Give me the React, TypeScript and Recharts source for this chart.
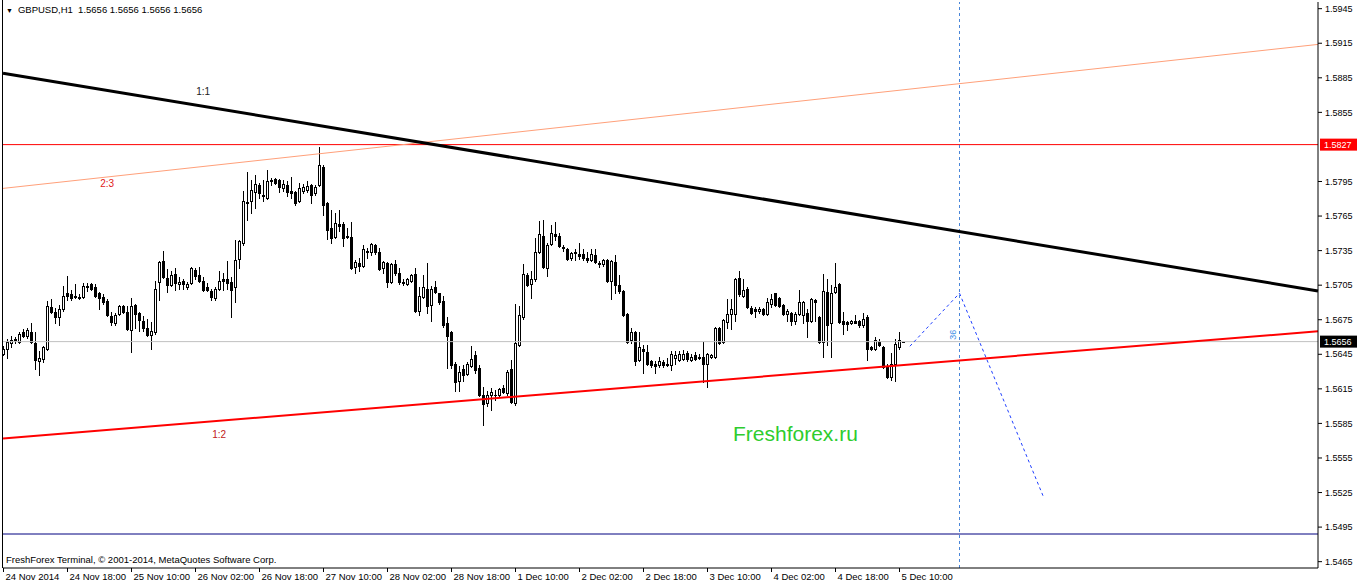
import { ComposedChart, Bar, XAxis, YAxis, ReferenceLine, ReferenceDot } from 'recharts'

// GBPUSD H1, one row per 16 bars (one time label each)
const OPEN = [
  1.5645, 1.5650, 1.5655, 1.5657, 1.5656, 1.5664, 1.5661, 1.5664, 1.5655, 1.5639, 1.5641, 1.5650, 1.5686, 1.5682, 1.5677, 1.5684,
  1.5698, 1.5697, 1.5696, 1.5695, 1.5695, 1.5703, 1.5706, 1.5703, 1.5698, 1.5695, 1.5691, 1.5678, 1.5672, 1.5680, 1.5687, 1.5682,
  1.5666, 1.5688, 1.5681, 1.5674, 1.5668, 1.5662, 1.5664, 1.5708, 1.5726, 1.5711, 1.5705, 1.5715, 1.5706, 1.5709, 1.5703, 1.5707,
  1.5718, 1.5714, 1.5709, 1.5703, 1.5700, 1.5694, 1.5702, 1.5710, 1.5710, 1.5708, 1.5703, 1.5728, 1.5742, 1.5776, 1.5778, 1.5786,
  1.5792, 1.5783, 1.5781, 1.5795, 1.5797, 1.5796, 1.5789, 1.5792, 1.5787, 1.5786, 1.5778, 1.5787, 1.5788, 1.5792, 1.5785, 1.5792,
  1.5808, 1.5776, 1.5755, 1.5747, 1.5758, 1.5758, 1.5748, 1.5747, 1.5721, 1.5724, 1.5722, 1.5734, 1.5734, 1.5740, 1.5734, 1.5720,
  1.5724, 1.5708, 1.5723, 1.5716, 1.5708, 1.5706, 1.5709, 1.5715, 1.5683, 1.5695, 1.5702, 1.5688, 1.5703, 1.5698, 1.5691, 1.5672,
  1.5664, 1.5637, 1.5622, 1.5632, 1.5628, 1.5635, 1.5644, 1.5633, 1.5610, 1.5603, 1.5610, 1.5610, 1.5610, 1.5616, 1.5611, 1.5632,
  1.5603, 1.5653, 1.5677, 1.5714, 1.5706, 1.5710, 1.5734, 1.5748, 1.5720, 1.5741, 1.5749, 1.5748, 1.5738, 1.5736, 1.5729, 1.5733,
  1.5732, 1.5732, 1.5729, 1.5727, 1.5731, 1.5724, 1.5723, 1.5727, 1.5709, 1.5725, 1.5705, 1.5700, 1.5680, 1.5657, 1.5664, 1.5640,
  1.5650, 1.5647, 1.5639, 1.5637, 1.5636, 1.5638, 1.5637, 1.5636, 1.5642, 1.5640, 1.5641, 1.5646, 1.5640, 1.5644, 1.5643, 1.5643,
  1.5637, 1.5643, 1.5643, 1.5668, 1.5656, 1.5673, 1.5680, 1.5680, 1.5711, 1.5696, 1.5702, 1.5685, 1.5684, 1.5683, 1.5684, 1.5680,
  1.5689, 1.5698, 1.5694, 1.5688, 1.5680, 1.5681, 1.5674, 1.5680, 1.5679, 1.5681, 1.5674, 1.5692, 1.5677, 1.5656, 1.5699, 1.5672,
  1.5699, 1.5706, 1.5674, 1.5673, 1.5672, 1.5674, 1.5674, 1.5670, 1.5677, 1.5651, 1.5650, 1.5656, 1.5651, 1.5635, 1.5625, 1.5637,
  1.5651, 1.5656,
]

const HIGH = [
  1.5652, 1.5658, 1.5661, 1.5660, 1.5664, 1.5667, 1.5668, 1.5672, 1.5664, 1.5648, 1.5652, 1.5691, 1.5693, 1.5685, 1.5688, 1.5704,
  1.5713, 1.5701, 1.5706, 1.5697, 1.5707, 1.5707, 1.5707, 1.5706, 1.5699, 1.5697, 1.5693, 1.5682, 1.5681, 1.5688, 1.5688, 1.5687,
  1.5694, 1.5689, 1.5682, 1.5678, 1.5676, 1.5673, 1.5709, 1.5726, 1.5735, 1.5719, 1.5717, 1.5720, 1.5712, 1.5710, 1.5708, 1.5721,
  1.5720, 1.5721, 1.5712, 1.5707, 1.5702, 1.5703, 1.5717, 1.5716, 1.5726, 1.5712, 1.5744, 1.5744, 1.5787, 1.5803, 1.5796, 1.5801,
  1.5794, 1.5796, 1.5805, 1.5798, 1.5798, 1.5797, 1.5796, 1.5795, 1.5799, 1.5787, 1.5794, 1.5793, 1.5795, 1.5793, 1.5792, 1.5825,
  1.5809, 1.5777, 1.5770, 1.5768, 1.5770, 1.5760, 1.5755, 1.5760, 1.5727, 1.5729, 1.5740, 1.5737, 1.5742, 1.5741, 1.5737, 1.5726,
  1.5725, 1.5724, 1.5727, 1.5720, 1.5710, 1.5711, 1.5715, 1.5720, 1.5703, 1.5714, 1.5724, 1.5704, 1.5709, 1.5698, 1.5696, 1.5677,
  1.5665, 1.5638, 1.5635, 1.5636, 1.5638, 1.5652, 1.5648, 1.5636, 1.5617, 1.5613, 1.5616, 1.5614, 1.5616, 1.5618, 1.5631, 1.5640,
  1.5689, 1.5687, 1.5723, 1.5716, 1.5717, 1.5746, 1.5761, 1.5762, 1.5742, 1.5757, 1.5760, 1.5750, 1.5740, 1.5737, 1.5734, 1.5736,
  1.5742, 1.5736, 1.5734, 1.5736, 1.5736, 1.5726, 1.5728, 1.5728, 1.5727, 1.5731, 1.5714, 1.5701, 1.5681, 1.5668, 1.5665, 1.5664,
  1.5653, 1.5653, 1.5640, 1.5639, 1.5643, 1.5640, 1.5642, 1.5648, 1.5648, 1.5648, 1.5649, 1.5648, 1.5645, 1.5647, 1.5645, 1.5656,
  1.5646, 1.5645, 1.5669, 1.5669, 1.5676, 1.5693, 1.5693, 1.5711, 1.5717, 1.5710, 1.5703, 1.5687, 1.5686, 1.5686, 1.5685, 1.5694,
  1.5697, 1.5698, 1.5695, 1.5689, 1.5684, 1.5682, 1.5682, 1.5701, 1.5691, 1.5684, 1.5694, 1.5693, 1.5678, 1.5715, 1.5710, 1.5705,
  1.5724, 1.5707, 1.5682, 1.5674, 1.5675, 1.5679, 1.5675, 1.5681, 1.5679, 1.5652, 1.5660, 1.5658, 1.5652, 1.5637, 1.5646, 1.5658,
  1.5664, 1.5656,
]

const LOW = [
  1.5644, 1.5642, 1.5651, 1.5655, 1.5655, 1.5660, 1.5659, 1.5655, 1.5632, 1.5627, 1.5638, 1.5649, 1.5681, 1.5672, 1.5670, 1.5683,
  1.5692, 1.5692, 1.5694, 1.5693, 1.5694, 1.5700, 1.5701, 1.5695, 1.5684, 1.5689, 1.5678, 1.5670, 1.5670, 1.5679, 1.5681, 1.5666,
  1.5647, 1.5668, 1.5665, 1.5665, 1.5661, 1.5650, 1.5663, 1.5692, 1.5711, 1.5699, 1.5704, 1.5701, 1.5702, 1.5702, 1.5702, 1.5706,
  1.5710, 1.5708, 1.5700, 1.5700, 1.5692, 1.5692, 1.5701, 1.5701, 1.5702, 1.5677, 1.5690, 1.5720, 1.5740, 1.5762, 1.5768, 1.5772,
  1.5781, 1.5778, 1.5780, 1.5792, 1.5793, 1.5786, 1.5787, 1.5782, 1.5781, 1.5775, 1.5777, 1.5785, 1.5786, 1.5776, 1.5783, 1.5791,
  1.5766, 1.5745, 1.5742, 1.5746, 1.5752, 1.5739, 1.5746, 1.5719, 1.5716, 1.5717, 1.5721, 1.5729, 1.5731, 1.5732, 1.5718, 1.5716,
  1.5703, 1.5707, 1.5714, 1.5706, 1.5705, 1.5705, 1.5708, 1.5682, 1.5679, 1.5694, 1.5681, 1.5674, 1.5698, 1.5689, 1.5669, 1.5633,
  1.5633, 1.5613, 1.5613, 1.5622, 1.5627, 1.5634, 1.5629, 1.5609, 1.5584, 1.5600, 1.5597, 1.5605, 1.5609, 1.5611, 1.5610, 1.5603,
  1.5601, 1.5652, 1.5676, 1.5704, 1.5694, 1.5709, 1.5733, 1.5720, 1.5713, 1.5740, 1.5744, 1.5738, 1.5735, 1.5727, 1.5727, 1.5727,
  1.5728, 1.5727, 1.5725, 1.5726, 1.5724, 1.5721, 1.5722, 1.5708, 1.5693, 1.5698, 1.5698, 1.5678, 1.5655, 1.5655, 1.5636, 1.5639,
  1.5629, 1.5636, 1.5634, 1.5629, 1.5634, 1.5634, 1.5635, 1.5631, 1.5637, 1.5639, 1.5640, 1.5639, 1.5639, 1.5640, 1.5641, 1.5621,
  1.5617, 1.5642, 1.5642, 1.5654, 1.5655, 1.5668, 1.5667, 1.5674, 1.5696, 1.5695, 1.5685, 1.5680, 1.5677, 1.5681, 1.5679, 1.5679,
  1.5686, 1.5687, 1.5686, 1.5679, 1.5674, 1.5670, 1.5671, 1.5679, 1.5672, 1.5660, 1.5673, 1.5674, 1.5655, 1.5643, 1.5653, 1.5643,
  1.5698, 1.5672, 1.5663, 1.5666, 1.5671, 1.5672, 1.5669, 1.5669, 1.5640, 1.5649, 1.5649, 1.5652, 1.5633, 1.5624, 1.5623, 1.5622,
  1.5650, 1.5656,
]

const CLOSE = [
  1.5650, 1.5656, 1.5657, 1.5658, 1.5663, 1.5661, 1.5666, 1.5656, 1.5640, 1.5642, 1.5651, 1.5687, 1.5682, 1.5677, 1.5684, 1.5696,
  1.5696, 1.5694, 1.5695, 1.5694, 1.5704, 1.5704, 1.5702, 1.5696, 1.5694, 1.5690, 1.5679, 1.5673, 1.5679, 1.5687, 1.5682, 1.5667,
  1.5687, 1.5680, 1.5675, 1.5668, 1.5662, 1.5665, 1.5702, 1.5725, 1.5712, 1.5705, 1.5714, 1.5707, 1.5708, 1.5706, 1.5706, 1.5720,
  1.5713, 1.5709, 1.5701, 1.5701, 1.5695, 1.5702, 1.5709, 1.5709, 1.5707, 1.5701, 1.5727, 1.5743, 1.5778, 1.5777, 1.5788, 1.5793,
  1.5785, 1.5782, 1.5795, 1.5796, 1.5794, 1.5790, 1.5793, 1.5786, 1.5785, 1.5776, 1.5789, 1.5790, 1.5791, 1.5783, 1.5790, 1.5809,
  1.5775, 1.5753, 1.5746, 1.5759, 1.5756, 1.5746, 1.5747, 1.5720, 1.5725, 1.5722, 1.5736, 1.5735, 1.5741, 1.5734, 1.5719, 1.5725,
  1.5708, 1.5723, 1.5716, 1.5708, 1.5707, 1.5710, 1.5714, 1.5683, 1.5696, 1.5703, 1.5687, 1.5702, 1.5699, 1.5690, 1.5670, 1.5661,
  1.5636, 1.5621, 1.5630, 1.5627, 1.5637, 1.5641, 1.5631, 1.5610, 1.5602, 1.5610, 1.5612, 1.5610, 1.5615, 1.5612, 1.5630, 1.5604,
  1.5655, 1.5679, 1.5715, 1.5705, 1.5710, 1.5734, 1.5749, 1.5721, 1.5740, 1.5750, 1.5748, 1.5739, 1.5737, 1.5728, 1.5733, 1.5734,
  1.5730, 1.5729, 1.5727, 1.5732, 1.5725, 1.5723, 1.5727, 1.5709, 1.5726, 1.5705, 1.5700, 1.5679, 1.5656, 1.5664, 1.5639, 1.5651,
  1.5648, 1.5637, 1.5636, 1.5635, 1.5639, 1.5636, 1.5636, 1.5645, 1.5644, 1.5645, 1.5645, 1.5641, 1.5643, 1.5641, 1.5642, 1.5637,
  1.5645, 1.5644, 1.5668, 1.5655, 1.5675, 1.5680, 1.5684, 1.5710, 1.5697, 1.5701, 1.5686, 1.5681, 1.5683, 1.5684, 1.5680, 1.5690,
  1.5693, 1.5688, 1.5687, 1.5680, 1.5683, 1.5674, 1.5680, 1.5690, 1.5690, 1.5674, 1.5693, 1.5690, 1.5656, 1.5700, 1.5670, 1.5698,
  1.5703, 1.5673, 1.5671, 1.5671, 1.5674, 1.5672, 1.5670, 1.5676, 1.5650, 1.5650, 1.5657, 1.5653, 1.5634, 1.5625, 1.5637, 1.5654,
  1.5657, 1.5656,
]

// bar index of each time label
const TIME_TICKS = [0, 16, 32, 48, 64, 80, 96, 112, 128, 144, 160, 176, 192, 208, 224]
const TIME_LABELS = [
  '24 Nov 2014', '24 Nov 18:00', '25 Nov 10:00', '26 Nov 02:00', '26 Nov 18:00', '27 Nov 10:00', '28 Nov 02:00',
  '28 Nov 18:00', '1 Dec 10:00', '2 Dec 02:00', '2 Dec 18:00', '3 Dec 10:00', '4 Dec 02:00', '4 Dec 18:00', '5 Dec 10:00',
]
const PRICE_TICKS = [
  1.5465, 1.5495, 1.5525, 1.5555, 1.5585, 1.5615, 1.5645, 1.5675, 1.5705, 1.5735, 1.5765, 1.5795, 1.5855, 1.5885, 1.5915, 1.5945,
]

// trend lines: price at the left and right edge of the window
const LINE_1_1 = [1.5889, 1.5700]
const LINE_2_3 = [1.5789, 1.5914]
const LINE_1_2 = [1.5572, 1.5665]
const LEVEL_RED = 1.5827
const LEVEL_BID = 1.5656
const LEVEL_LOW = 1.5489
const VLINE_BAR = 239
const PROJ_BARS = [226.6, 239, 259.9]
const PROJ_PRICES = [1.5652, 1.5698, 1.5522]

const X_MIN = -0.125
const X_MAX = 328.625
const Y_MIN = 1.54595
const Y_MAX = 1.59508
const FONT = "'Liberation Sans', Arial, sans-serif"

const candles = OPEN.map((open, i) => ({ i, open, high: HIGH[i], low: LOW[i], close: CLOSE[i] }))

function Candle(props: any) {
  const { x, y, width, height, payload } = props
  if (x == null || y == null) return null
  const { open, high, low, close } = payload
  const top = Math.min(y, y + height)
  const h = Math.abs(height)
  const c = Math.floor(x + width / 2)
  const py = (v: number) => (high === low ? top : top + ((high - v) / (high - low)) * h)
  const bTop = Math.round(py(Math.max(open, close)))
  const bBot = Math.round(py(Math.min(open, close)))
  const wick = <line x1={c + 0.5} x2={c + 0.5} y1={Math.round(top)} y2={Math.round(top + h) + 1} stroke="#000" strokeWidth={1} />
  let body
  if (bBot - bTop < 1) {
    body = <line x1={c - 1} x2={c + 2} y1={bTop + 0.5} y2={bTop + 0.5} stroke="#000" strokeWidth={1} />
  } else if (close > open) {
    body = <rect x={c - 0.5} y={bTop + 0.5} width={2} height={bBot - bTop} fill="#fff" stroke="#000" strokeWidth={1} />
  } else {
    body = <rect x={c - 1} y={bTop} width={3} height={bBot - bTop + 1} fill="#000" />
  }
  return (
    <g>
      {wick}
      {body}
    </g>
  )
}

function TimeTick(props: any) {
  const { x, y, payload } = props
  const idx = TIME_TICKS.indexOf(payload.value)
  return (
    <text x={x + 2} y={y} dy="0.71em" textAnchor="start" fontSize={9.5} fill="#000" fontFamily={FONT}>
      {TIME_LABELS[idx]}
    </text>
  )
}

function PriceTag(props: any) {
  const { viewBox, text, bg } = props
  if (!viewBox) return null
  const px = viewBox.x + viewBox.width + 2
  const py = viewBox.y
  return (
    <g>
      <rect x={px} y={py - 6} width={37} height={12} fill={bg} />
      <text x={px + 4} y={py} dy="0.35em" fontSize={9} fill="#fff" fontFamily={FONT}>
        {text}
      </text>
    </g>
  )
}

const lineLabel = (text: string, color: string, size: number, rotate = false) => (p: any) => (
  <text
    x={p.cx}
    y={p.cy}
    dy="0.35em"
    textAnchor="middle"
    fontSize={size}
    fill={color}
    fontFamily={FONT}
    transform={rotate ? `rotate(-90 ${p.cx} ${p.cy})` : undefined}
  >
    {text}
  </text>
)

export default function App() {
  return (
    <div style={{ position: 'absolute', left: 0, top: 0, width: 1358, height: 586, background: '#fff', fontFamily: FONT }}>
      <ComposedChart width={1358} height={586} data={candles} margin={{ top: 2, right: 0, bottom: 0, left: 3 }}>
        <XAxis
          type="number"
          dataKey="i"
          domain={[X_MIN, X_MAX]}
          allowDataOverflow
          ticks={TIME_TICKS}
          interval={0}
          height={18}
          tickSize={4}
          tickMargin={1}
          axisLine={{ stroke: '#000' }}
          tickLine={{ stroke: '#000' }}
          tick={<TimeTick />}
        />
        <YAxis
          orientation="right"
          type="number"
          domain={[Y_MIN, Y_MAX]}
          allowDataOverflow
          ticks={PRICE_TICKS}
          interval={0}
          width={40}
          tickSize={4}
          tickMargin={3}
          axisLine={{ stroke: '#000' }}
          tickLine={{ stroke: '#000' }}
          tick={{ fontSize: 9, fill: '#000', fontFamily: FONT }}
          tickFormatter={(v) => Number(v).toFixed(4)}
        />
        <ReferenceLine y={LEVEL_LOW} stroke="#000080" strokeWidth={1} />
        <ReferenceLine y={LEVEL_BID} stroke="#c0c0c0" strokeWidth={1} ifOverflow="visible" label={<PriceTag text="1.5656" bg="#000" />} />
        <ReferenceLine y={LEVEL_RED} stroke="#ff0000" strokeWidth={1} ifOverflow="visible" label={<PriceTag text="1.5827" bg="#ff0000" />} />
        <ReferenceLine x={VLINE_BAR} stroke="#4a86d8" strokeWidth={1} strokeDasharray="3 3" />
        <Bar dataKey={(d: any) => [d.low, d.high]} shape={<Candle />} isAnimationActive={false} />
        <ReferenceLine segment={[{ x: X_MIN, y: LINE_2_3[0] }, { x: X_MAX, y: LINE_2_3[1] }]} stroke="#ffa07a" strokeWidth={1} />
        <ReferenceLine segment={[{ x: X_MIN, y: LINE_1_1[0] }, { x: X_MAX, y: LINE_1_1[1] }]} stroke="#000" strokeWidth={3} />
        <ReferenceLine segment={[{ x: X_MIN, y: LINE_1_2[0] }, { x: X_MAX, y: LINE_1_2[1] }]} stroke="#ff0000" strokeWidth={2} />
        <ReferenceLine
          segment={[{ x: PROJ_BARS[0], y: PROJ_PRICES[0] }, { x: PROJ_BARS[1], y: PROJ_PRICES[1] }]}
          stroke="#1f3fff"
          strokeWidth={1}
          strokeDasharray="3 3"
        />
        <ReferenceLine
          segment={[{ x: PROJ_BARS[1], y: PROJ_PRICES[1] }, { x: PROJ_BARS[2], y: PROJ_PRICES[2] }]}
          stroke="#1f3fff"
          strokeWidth={1}
          strokeDasharray="3 3"
        />
        <ReferenceDot x={49.9} y={1.5873} r={0} shape={lineLabel('1:1', '#222', 10)} />
        <ReferenceDot x={25.9} y={1.5793} r={0} shape={lineLabel('2:3', '#e02020', 10)} />
        <ReferenceDot x={53.9} y={1.5575} r={0} shape={lineLabel('1:2', '#c02020', 10)} />
        <ReferenceDot x={237.4} y={1.5662} r={0} shape={lineLabel('36', '#3a8ee6', 9, true)} />
      </ComposedChart>
      <div style={{ position: 'absolute', left: 2, top: 0, width: 1, height: 568, background: '#000' }} />
      <div style={{ position: 'absolute', left: 6, top: 4, fontSize: 9.5, color: '#000', whiteSpace: 'nowrap' }}>
        <span style={{ fontSize: 7, marginRight: 5 }}>▼</span>GBPUSD,H1&nbsp;&nbsp;1.5656 1.5656 1.5656 1.5656
      </div>
      <div style={{ position: 'absolute', left: 6, top: 554, fontSize: 9.5, color: '#000', whiteSpace: 'nowrap' }}>
        FreshForex Terminal, © 2001-2014, MetaQuotes Software Corp.
      </div>
      <div style={{ position: 'absolute', left: 733, top: 422, fontSize: 21, color: '#2ecc2e', whiteSpace: 'nowrap' }}>
        Freshforex.ru
      </div>
    </div>
  )
}
